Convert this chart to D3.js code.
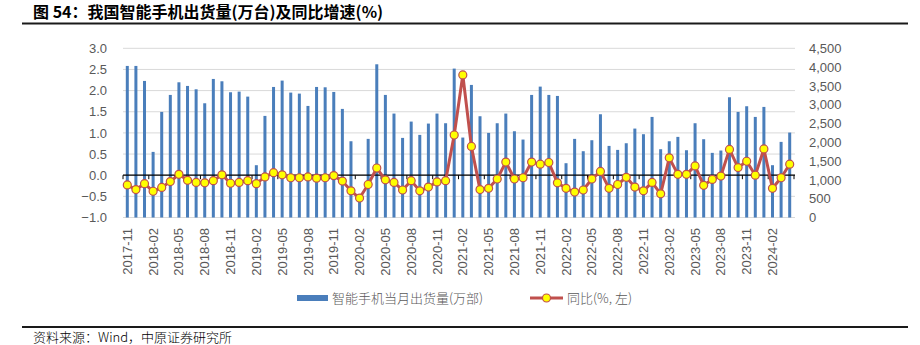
<!DOCTYPE html>
<html><head><meta charset="utf-8">
<script src="https://cdn.jsdelivr.net/npm/d3@7"></script>
<style>body{margin:0;background:#fff} svg{display:block}</style>
</head><body><svg id="c" width="920" height="345"></svg>
<script>
const months = [
"2017-11","2017-12","2018-01","2018-02","2018-03","2018-04","2018-05","2018-06","2018-07","2018-08","2018-09","2018-10",
"2018-11","2018-12","2019-01","2019-02","2019-03","2019-04","2019-05","2019-06","2019-07","2019-08","2019-09","2019-10",
"2019-11","2019-12","2020-01","2020-02","2020-03","2020-04","2020-05","2020-06","2020-07","2020-08","2020-09","2020-10",
"2020-11","2020-12","2021-01","2021-02","2021-03","2021-04","2021-05","2021-06","2021-07","2021-08","2021-09","2021-10",
"2021-11","2021-12","2022-01","2022-02","2022-03","2022-04","2022-05","2022-06","2022-07","2022-08","2022-09","2022-10",
"2022-11","2022-12","2023-01","2023-02","2023-03","2023-04","2023-05","2023-06","2023-07","2023-08","2023-09","2023-10",
"2023-11","2023-12","2024-01","2024-02","2024-03","2024-04"];
const shipments = [
4031,4031,3632,1745,2808,3260,3596,3499,3410,3038,3685,3623,
3331,3348,3215,1391,2702,3472,3641,3322,3295,2967,3472,3463,
3339,2888,2028,600,2091,4075,3260,2764,2117,2551,2197,2498,
2764,2507,3960,2126,3526,2693,2250,2507,2764,2294,2073,3260,
3481,3260,3233,1444,2091,1763,2055,2746,1904,1798,1975,2365,
2215,2675,1816,2028,2144,1789,2507,2082,1719,1781,3198,2808,
2959,2675,2941,1391,2011,2259];
const yoy = [
-0.23,-0.34,-0.20,-0.38,-0.29,-0.15,0.02,-0.12,-0.17,-0.18,-0.13,0.01,
-0.19,-0.17,-0.13,-0.20,-0.04,0.06,0.01,-0.06,-0.06,-0.04,-0.07,-0.06,
-0.01,-0.14,-0.37,-0.54,-0.22,0.17,-0.11,-0.17,-0.35,-0.13,-0.37,-0.28,
-0.16,-0.13,0.95,2.37,0.68,-0.34,-0.31,-0.09,0.31,-0.09,-0.06,0.31,
0.26,0.30,-0.18,-0.31,-0.40,-0.35,-0.09,0.09,-0.31,-0.22,-0.05,-0.28,
-0.37,-0.17,-0.44,0.41,0.02,0.02,0.22,-0.24,-0.10,-0.02,0.61,0.18,
0.33,0.00,0.62,-0.31,-0.06,0.26];
const leftTicks = [-1,-0.5,0,0.5,1,1.5,2,2.5,3];
const rightTicks = [0,500,1000,1500,2000,2500,3000,3500,4000,4500];
const xLabels = months.filter((d,i)=>i%3===0);
const titleText = "图 54：我国智能手机出货量(万台)及同比增速(%)";
const legendBar = "智能手机当月出货量(万部)";
const legendLine = "同比(%, 左)";
const sourceText = "资料来源：Wind，中原证券研究所";

const svg = d3.select("#c");
const L = 123, R = 795, T = 48.3, B = 217.5;
const x = d3.scaleBand().domain(months).range([L, 794]).padding(0);
const bw = x.bandwidth();
const yL = d3.scaleLinear().domain([-1,3]).range([B, T]);
const yR = d3.scaleLinear().domain([0,4500]).range([B, T]);
const axisFont = "'Liberation Sans', Arial, sans-serif";
const grey = "#595959";

// title
svg.append("text").attr("x",33).attr("y",18).attr("font-family","'Noto Sans CJK SC', sans-serif")
  .attr("font-weight","bold").attr("font-size",16).attr("fill","#000").text(titleText);
svg.append("line").attr("x1",22).attr("x2",908).attr("y1",23.5).attr("y2",23.5).attr("stroke","#1a1a1a").attr("stroke-width",2);

// gridlines
svg.append("g").selectAll("line").data(leftTicks).join("line")
  .attr("x1",L).attr("x2",R).attr("y1",d=>yL(d)).attr("y2",d=>yL(d))
  .attr("stroke","#d9d9d9").attr("stroke-width",1);

// left axis
const gl = svg.append("g").attr("transform",`translate(${L},0)`)
  .call(d3.axisLeft(yL).tickValues(leftTicks).tickFormat(d3.format(".1f")).tickSize(0).tickPadding(16));
gl.select(".domain").remove();
gl.selectAll("text").attr("font-family",axisFont).attr("font-size",13).attr("fill",grey);

// right axis
const gr = svg.append("g").attr("transform",`translate(${R},0)`)
  .call(d3.axisRight(yR).tickValues(rightTicks).tickFormat(d3.format(",")).tickSize(0).tickPadding(14));
gr.select(".domain").remove();
gr.selectAll("text").attr("font-family",axisFont).attr("font-size",13).attr("fill",grey);

// bars
svg.append("g").selectAll("rect").data(shipments).join("rect")
  .attr("x",(d,i)=>x(months[i])+bw/2-1.5).attr("width",3)
  .attr("y",d=>yR(d)).attr("height",d=>yR(0)-yR(d)).attr("fill","#4a7ebb");

// zero axis line with ticks
const z = yL(0);
svg.append("line").attr("x1",L).attr("x2",R).attr("y1",z).attr("y2",z).attr("stroke","#000").attr("stroke-width",1.2);
const tickPos = months.map((m,i)=>i).filter(i=>i%3===0).map(i=>x(months[i])).concat([x(months[months.length-1])+bw]);
svg.append("g").selectAll("line").data(tickPos).join("line")
  .attr("x1",d=>d).attr("x2",d=>d).attr("y1",z).attr("y2",z+4).attr("stroke","#000").attr("stroke-width",1);

// x labels
const gx = svg.append("g").attr("transform",`translate(0,${B})`)
  .call(d3.axisBottom(x).tickValues(xLabels).tickSize(0));
gx.select(".domain").remove();
gx.selectAll("text").attr("font-family",axisFont).attr("font-size",13).attr("fill",grey)
  .attr("transform","rotate(-90)").attr("text-anchor","end").attr("x",-10.5).attr("y",0).attr("dy","0.35em");

// line
const line = d3.line().x((d,i)=>x(months[i])+bw/2).y(d=>yL(d));
svg.append("path").datum(yoy).attr("d",line).attr("fill","none").attr("stroke","#c0504d")
  .attr("stroke-width",3).attr("stroke-linejoin","round");
svg.append("g").selectAll("circle").data(yoy).join("circle")
  .attr("cx",(d,i)=>x(months[i])+bw/2).attr("cy",d=>yL(d)).attr("r",4)
  .attr("fill","#ffff00").attr("stroke","#c0504d").attr("stroke-width",1.2);

// legend
const ly = 298;
const lg = svg.append("g");
lg.append("rect").attr("x",297).attr("y",ly-3).attr("width",31).attr("height",6).attr("fill","#4a7ebb");
lg.append("text").attr("x",332).attr("y",ly).attr("dy","0.35em").attr("font-family","'Noto Sans CJK SC', sans-serif")
  .attr("font-size",13).attr("font-weight",300).attr("fill",grey).text(legendBar);
lg.append("line").attr("x1",530).attr("x2",563).attr("y1",ly).attr("y2",ly).attr("stroke","#c0504d").attr("stroke-width",3);
lg.append("circle").attr("cx",546.5).attr("cy",ly).attr("r",4).attr("fill","#ffff00").attr("stroke","#c0504d").attr("stroke-width",1.2);
lg.append("text").attr("x",567).attr("y",ly).attr("dy","0.35em").attr("font-family","'Noto Sans CJK SC', sans-serif")
  .attr("font-size",13).attr("font-weight",300).attr("fill",grey).text(legendLine);

// footer
svg.append("line").attr("x1",22).attr("x2",908).attr("y1",327).attr("y2",327).attr("stroke","#1a1a1a").attr("stroke-width",2);
svg.append("text").attr("x",33).attr("y",342).attr("font-family","'Noto Sans CJK SC', sans-serif")
  .attr("font-size",13).attr("font-weight",300).attr("fill","#000").text(sourceText);
</script></body></html>
